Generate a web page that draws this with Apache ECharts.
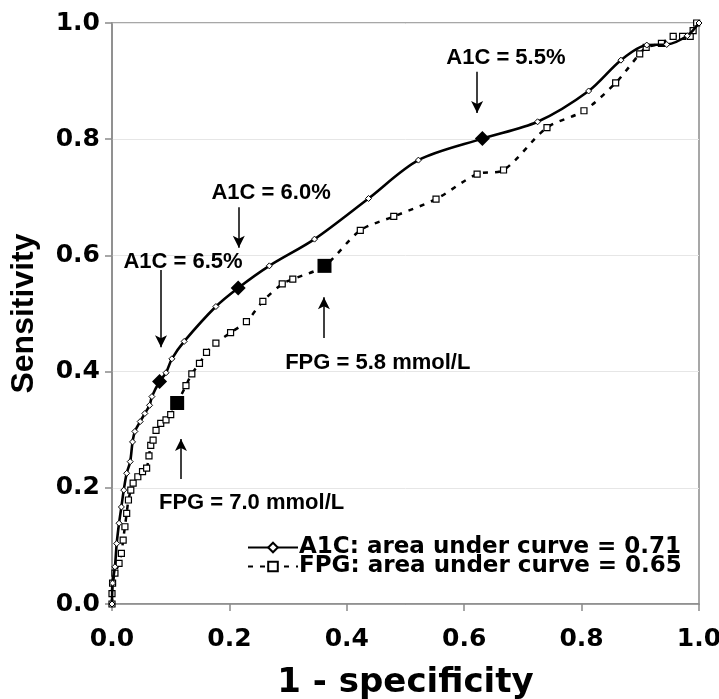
<!DOCTYPE html>
<html>
<head>
<meta charset="utf-8">
<script src="https://cdn.jsdelivr.net/npm/echarts@6/dist/echarts.min.js"></script>
<style>
html,body{margin:0;padding:0;background:#fff;}
#chart{width:719px;height:699px;}
</style>
</head>
<body>
<div id="chart"></div>
<script>
// ---- data ----
var xTicks = [0, 0.2, 0.4, 0.6, 0.8, 1.0];
var yTicks = [0, 0.2, 0.4, 0.6, 0.8, 1.0];

var a1cName = 'A1C: area under curve = 0.71';
var fpgName = 'FPG: area under curve = 0.65';

var a1cX = [0, 0.001, 0.005, 0.008, 0.012, 0.016, 0.020, 0.025, 0.031, 0.035, 0.039, 0.048, 0.056, 0.064, 0.068, 0.081, 0.092, 0.102, 0.123, 0.177, 0.215, 0.268, 0.345, 0.437, 0.522, 0.631, 0.725, 0.812, 0.867, 0.911, 0.945, 0.980, 1.0];
var a1cY = [0, 0.036, 0.064, 0.104, 0.139, 0.167, 0.196, 0.225, 0.245, 0.279, 0.297, 0.314, 0.328, 0.342, 0.357, 0.383, 0.398, 0.422, 0.452, 0.512, 0.544, 0.582, 0.628, 0.698, 0.764, 0.801, 0.830, 0.883, 0.936, 0.962, 0.963, 0.978, 1.0];

var fpgX = [0, 0, 0.001, 0.005, 0.012, 0.016, 0.019, 0.022, 0.025, 0.028, 0.032, 0.036, 0.044, 0.052, 0.059, 0.063, 0.066, 0.070, 0.075, 0.083, 0.092, 0.100, 0.111, 0.126, 0.136, 0.149, 0.161, 0.177, 0.202, 0.229, 0.257, 0.290, 0.308, 0.362, 0.423, 0.480, 0.552, 0.622, 0.667, 0.741, 0.804, 0.858, 0.899, 0.910, 0.936, 0.956, 0.972, 0.985, 0.990, 0.996];
var fpgY = [0, 0.018, 0.036, 0.053, 0.070, 0.087, 0.110, 0.133, 0.156, 0.179, 0.196, 0.208, 0.219, 0.228, 0.234, 0.255, 0.273, 0.282, 0.299, 0.311, 0.317, 0.326, 0.346, 0.376, 0.396, 0.414, 0.433, 0.449, 0.467, 0.486, 0.521, 0.551, 0.559, 0.582, 0.643, 0.667, 0.697, 0.740, 0.747, 0.820, 0.849, 0.897, 0.947, 0.958, 0.965, 0.977, 0.977, 0.977, 0.987, 1.0];

// cut-off points
var a1cCutLabels = ['A1C = 6.5%', 'A1C = 6.0%', 'A1C = 5.5%'];
var a1cCutX = [0.081, 0.215, 0.631];
var a1cCutY = [0.383, 0.544, 0.801];

var fpgCutLabels = ['FPG = 7.0 mmol/L', 'FPG = 5.8 mmol/L'];
var fpgCutX = [0.111, 0.362];
var fpgCutY = [0.346, 0.582];

// ---- layout (annotation placement, data coordinates) ----
var a1cTextPos = [[0.121, 0.589], [0.271, 0.707], [0.671, 0.940]];
var a1cArrow = [[0.0835, 0.575, 0.442], [0.216, 0.683, 0.613], [0.622, 0.916, 0.845]];
var fpgTextPos = [[0.080, 0.174], [0.295, 0.415]];
var fpgArrow = [[0.1175, 0.215, 0.284], [0.361, 0.458, 0.528]];

function zip(xs, ys) { return xs.map(function (x, i) { return [x, ys[i]]; }); }

var FONT = 'Liberation Sans, Arial, sans-serif';
var WIDE = 'DejaVu Sans, Liberation Sans, sans-serif';

var textData = [];
a1cCutLabels.forEach(function (t, i) {
  textData.push({ name: t, value: a1cTextPos[i], label: { position: 'inside', align: 'center' } });
});
fpgCutLabels.forEach(function (t, i) {
  textData.push({ name: t, value: fpgTextPos[i], label: { position: 'inside', align: 'left' } });
});
var arrows = [];
a1cArrow.concat(fpgArrow).forEach(function (a) {
  arrows.push([{ coord: [a[0], a[1]] }, { coord: [a[0], a[2]] }]);
});

var chart = echarts.init(document.getElementById('chart'), null, { renderer: 'canvas' });
var axisCommon = {
  type: 'value', min: 0, max: 1, interval: 0.2,
  axisLine: { show: true, lineStyle: { color: '#8a8a8a', width: 1.5 } },
  axisTick: { show: true, inside: false, length: 7, lineStyle: { color: '#8a8a8a', width: 1.5 } },
  nameLocation: 'middle'
};
var option = {
  backgroundColor: '#fff',
  animation: false,
  grid: { left: 112, right: 20, top: 23, bottom: 95, show: true, borderColor: '#8a8a8a', borderWidth: 1.5, containLabel: false, outerBoundsMode: 'none' },
  xAxis: Object.assign({}, axisCommon, {
    name: '1 - specificity', nameGap: 62,
    nameTextStyle: { fontFamily: WIDE, fontWeight: 'bold', fontSize: 34, color: '#000' },
    splitLine: { show: false },
    axisLabel: { margin: 23, fontFamily: WIDE, fontWeight: 'bold', fontSize: 25, color: '#000', formatter: function (v) { return v.toFixed(1); } }
  }),
  yAxis: Object.assign({}, axisCommon, {
    name: 'Sensitivity', nameGap: 72,
    nameTextStyle: { fontFamily: FONT, fontWeight: 'bold', fontSize: 32, color: '#000' },
    splitLine: { show: true, lineStyle: { color: '#e6e6e6', width: 1 } },
    axisLabel: { margin: 12, fontFamily: WIDE, fontWeight: 'bold', fontSize: 25, color: '#000', formatter: function (v) { return v.toFixed(1); } }
  }),
  legend: {
    orient: 'vertical', left: 242, top: 531, itemWidth: 50, itemHeight: 12, itemGap: -4,
    textStyle: { fontFamily: WIDE, fontWeight: 'bold', fontSize: 23, color: '#000', padding: [0, 0, 0, -4] },
    data: [a1cName, fpgName]
  },
  series: [
    {
      name: a1cName, type: 'line', data: zip(a1cX, a1cY), smooth: 0.3,
      symbol: 'diamond', symbolSize: 6, showAllSymbol: true,
      lineStyle: { color: '#000', width: 2.6 },
      itemStyle: { color: '#fff', borderColor: '#000', borderWidth: 1 },
      z: 3
    },
    {
      name: fpgName, type: 'line', data: zip(fpgX, fpgY), smooth: 0.3,
      symbol: 'rect', symbolSize: 6, showAllSymbol: true,
      lineStyle: { color: '#000', width: 2.5, type: [5, 7] },
      itemStyle: { color: '#fff', borderColor: '#000', borderWidth: 1.2 },
      z: 2
    },
    {
      name: 'A1C cut-offs', type: 'scatter', data: zip(a1cCutX, a1cCutY),
      symbol: 'diamond', symbolSize: 15, itemStyle: { color: '#000', opacity: 1 }, z: 5
    },
    {
      name: 'FPG cut-offs', type: 'scatter', data: zip(fpgCutX, fpgCutY),
      symbol: 'rect', symbolSize: 14, itemStyle: { color: '#000', opacity: 1 }, z: 5
    },
    {
      name: 'annotations', type: 'scatter', data: textData, symbolSize: 0, silent: true,
      itemStyle: { opacity: 1 },
      label: { show: true, formatter: '{b}', fontFamily: FONT, fontWeight: 'bold', fontSize: 22, color: '#000' },
      markLine: {
        silent: true, symbol: ['none', 'arrow'], symbolSize: [9, 12],
        lineStyle: { color: '#000', width: 1.5, type: 'solid', opacity: 1 },
        label: { show: false },
        data: arrows
      },
      z: 4
    }
  ]
};
chart.setOption(option);
</script>
</body>
</html>
